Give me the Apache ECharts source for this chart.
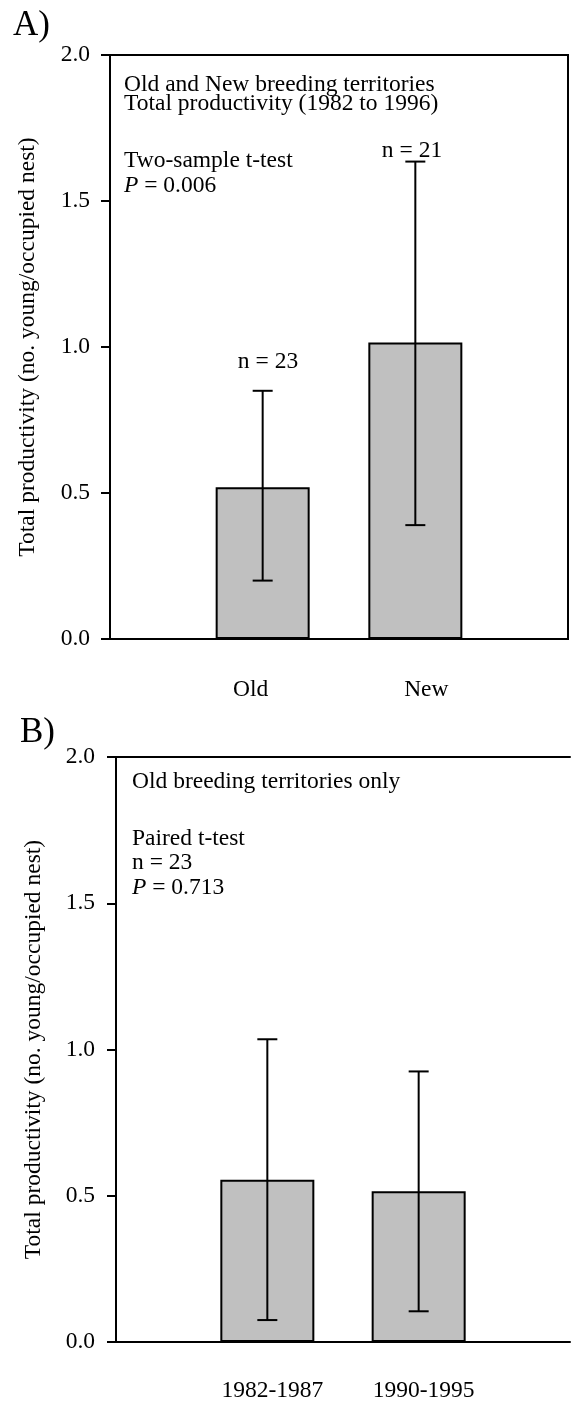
<!DOCTYPE html>
<html><head><meta charset="utf-8">
<script src="https://cdn.jsdelivr.net/npm/echarts@6/dist/echarts.min.js"></script>
<style>html,body{margin:0;padding:0;background:#fff}#c{width:573px;height:1403px}</style>
</head><body><div id="c"></div>
<script>
// ---- data ----
const yTicks = [0, 0.5, 1.0, 1.5, 2.0];
const catsA = ['', 'Old', 'New', ''];
const meansA = [null, 0.52, 1.015, null];
const lowA = [null, 0.20, 0.39, null];
const highA = [null, 0.85, 1.635, null];
const nLabelsA = ['n = 23', 'n = 21'];
const catsB = ['', '1982-1987', '1990-1995', ''];
const meansB = [null, 0.555, 0.515, null];
const lowB = [null, 0.075, 0.105, null];
const highB = [null, 1.035, 0.925, null];
const yTitle = 'Total productivity (no. young/occupied nest)';

const FONT = 'Liberation Serif';
const FS = 23.5;
const chart = echarts.init(document.getElementById('c'), null, {renderer: 'canvas'});

function errData(lo, hi) {
  const out = [];
  lo.forEach((v, i) => { if (v != null) out.push([i, v, hi[i]]); });
  return out;
}
function errItem(params, api) {
  const x = api.value(0), lo = api.value(1), hi = api.value(2);
  const a = api.coord([x, lo]), b = api.coord([x, hi]);
  const w = 10, st = {stroke: '#000', lineWidth: 2};
  return {type: 'group', children: [
    {type: 'line', shape: {x1: a[0], y1: a[1], x2: b[0], y2: b[1]}, style: st},
    {type: 'line', shape: {x1: b[0] - w, y1: b[1], x2: b[0] + w, y2: b[1]}, style: st},
    {type: 'line', shape: {x1: a[0] - w, y1: a[1], x2: a[0] + w, y2: a[1]}, style: st}
  ]};
}
const richX = {
  l: {fontFamily: FONT, fontSize: FS, color: '#000', padding: [0, 24, 0, 0]},
  r: {fontFamily: FONT, fontSize: FS, color: '#000', padding: [0, 0, 0, 22]},
  s: {fontFamily: FONT, fontSize: FS, color: '#000', padding: [0, 0, 0, 10]}
};
function yAxisCfg(idx, margin, gap) {
  return {
    type: 'value', gridIndex: idx, min: yTicks[0], max: yTicks[yTicks.length - 1],
    interval: yTicks[1] - yTicks[0],
    name: yTitle, nameLocation: 'middle', nameRotate: 90, nameGap: gap,
    nameTextStyle: {fontFamily: FONT, fontSize: FS, color: '#000'},
    axisLine: {show: true, lineStyle: {color: '#000', width: 2}},
    axisTick: {show: true, inside: false, length: 9, lineStyle: {color: '#000', width: 2}},
    axisLabel: {margin: margin, fontFamily: FONT, fontSize: FS, color: '#000', formatter: v => v.toFixed(1)},
    splitLine: {show: false}
  };
}
function xAxisCfg(idx, cats, fmt, margin) {
  return {
    type: 'category', gridIndex: idx, data: cats, boundaryGap: false,
    axisLine: {show: true, lineStyle: {color: '#000', width: 2}},
    axisTick: {show: false},
    axisLabel: {interval: 0, margin: margin, formatter: fmt, rich: richX},
    splitLine: {show: false}
  };
}
const txt = (x, y, text, size, extra) => ({
  type: 'text', x: x, y: y,
  style: Object.assign({text: text, fontFamily: FONT, fontSize: size || FS, fill: '#000',
    verticalAlign: 'middle', align: 'left',
    rich: {i: {fontFamily: FONT, fontSize: size || FS, fontStyle: 'italic', fill: '#000'}}}, extra || {})
});

chart.setOption({
  animation: false,
  backgroundColor: '#fff',
  grid: [
    {left: 110, top: 55, width: 458, height: 584, show: true, borderColor: '#000', borderWidth: 2, backgroundColor: 'transparent'},
    {left: 116, top: 757, width: 458, height: 586, show: false}
  ],
  xAxis: [
    xAxisCfg(0, catsA, v => v === 'Old' ? '{l|' + v + '}' : (v === 'New' ? '{r|' + v + '}' : ''), 39),
    xAxisCfg(1, catsB, v => v ? '{s|' + v + '}' : '', 37),
    {type: 'category', gridIndex: 1, position: 'top', data: catsB, boundaryGap: false,
     axisLine: {show: true, lineStyle: {color: '#000', width: 2}},
     axisTick: {show: false}, axisLabel: {show: false}, splitLine: {show: false}}
  ],
  yAxis: [yAxisCfg(0, 20, 70), yAxisCfg(1, 21, 70)],
  series: [
    {type: 'bar', xAxisIndex: 0, yAxisIndex: 0, data: meansA, barWidth: 94,
     itemStyle: {color: '#c0c0c0', borderColor: '#000', borderWidth: 2}},
    {type: 'custom', xAxisIndex: 0, yAxisIndex: 0, data: errData(lowA, highA), renderItem: errItem, z: 5},
    {type: 'bar', xAxisIndex: 1, yAxisIndex: 1, data: meansB, barWidth: 94,
     itemStyle: {color: '#c0c0c0', borderColor: '#000', borderWidth: 2}},
    {type: 'custom', xAxisIndex: 1, yAxisIndex: 1, data: errData(lowB, highB), renderItem: errItem, z: 5}
  ],
  graphic: [
    txt(13, 26, 'A)', 35),
    txt(20, 733, 'B)', 35),
    txt(124, 85, 'Old and New breeding territories'),
    txt(124, 104, 'Total productivity (1982 to 1996)'),
    txt(124, 161, 'Two-sample t-test'),
    txt(124, 186, '{i|P} = 0.006'),
    txt(268, 362, nLabelsA[0], FS, {align: 'center'}),
    txt(412, 151, nLabelsA[1], FS, {align: 'center'}),
    txt(132, 782, 'Old breeding territories only'),
    txt(132, 839, 'Paired t-test'),
    txt(132, 863, 'n = 23'),
    txt(132, 888, '{i|P} = 0.713')
  ]
});
</script></body></html>
